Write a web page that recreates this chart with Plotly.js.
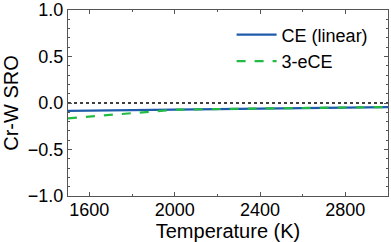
<!DOCTYPE html>
<html><head><meta charset="utf-8">
<script src="https://cdn.plot.ly/plotly-3.0.1.min.js"></script>
<style>html,body{margin:0;padding:0;background:#fff}#c{width:391px;height:242px}</style>
</head><body><div id="c"></div>
<script>
const temps = [1500, 1750, 2000, 2250, 2500, 2750, 3000];
const ceLinear = [-0.085, -0.078, -0.070, -0.063, -0.057, -0.051, -0.045];
const ece3 = [-0.165, -0.115, -0.072, -0.063, -0.057, -0.050, -0.043];
const refX = [1500, 3000];
const refY = [0, 0];
const xTicks = [1600, 2000, 2400, 2800];
const yTicks = [-1.0, -0.5, 0.0, 0.5, 1.0];
const yTickText = ['\u22121.0', '\u22120.5', '0.0', '0.5', '1.0'];

const font = {family: 'Liberation Sans, Arial, sans-serif', color: '#000'};
const traces = [
  {x: refX, y: refY, mode: 'lines', line: {color: '#000', width: 1.3, dash: 'dot'}, showlegend: false, hoverinfo: 'skip'},
  {x: temps, y: ceLinear, mode: 'lines', name: 'CE (linear)', line: {color: '#1f5bab', width: 2.2}},
  {x: temps, y: ece3, mode: 'lines', name: '3-eCE', line: {color: '#22bb44', width: 2.2, dash: 'dash'}}
];
const axisCommon = {
  showgrid: false, zeroline: false, showline: true, linecolor: '#555', linewidth: 1,
  mirror: 'ticks', ticks: 'inside', ticklen: 4, tickcolor: '#555',
  tickfont: {family: font.family, size: 18, color: '#000'}
};
const layout = {
  width: 391, height: 242,
  margin: {l: 68, r: 3, t: 10, b: 46},
  paper_bgcolor: '#fff', plot_bgcolor: '#fff',
  font: font,
  showlegend: true,
  legend: {x: 0.955, y: 0.965, xanchor: 'right', yanchor: 'top', bgcolor: 'rgba(0,0,0,0)',
           font: {family: font.family, size: 18, color: '#000'}, tracegroupgap: 0, itemwidth: 40},
  xaxis: Object.assign({}, axisCommon, {
    range: [1500, 3000], tickvals: xTicks, ticklabelstandoff: -3,
    minor: {dtick: 200, tick0: 1600, ticks: 'inside', ticklen: 2, tickcolor: '#555'},
    title: {text: 'Temperature (K)', font: {family: font.family, size: 20, color: '#000'}, standoff: 0}
  }),
  yaxis: Object.assign({}, axisCommon, {
    range: [-1, 1], tickvals: yTicks, ticktext: yTickText,
    minor: {dtick: 0.1, tick0: 0, ticks: 'inside', ticklen: 2, tickcolor: '#555'},
    title: {text: 'Cr-W SRO', font: {family: font.family, size: 20, color: '#000'}, standoff: 4}
  })
};
Plotly.newPlot('c', traces, layout, {displayModeBar: false, staticPlot: true});
</script></body></html>
